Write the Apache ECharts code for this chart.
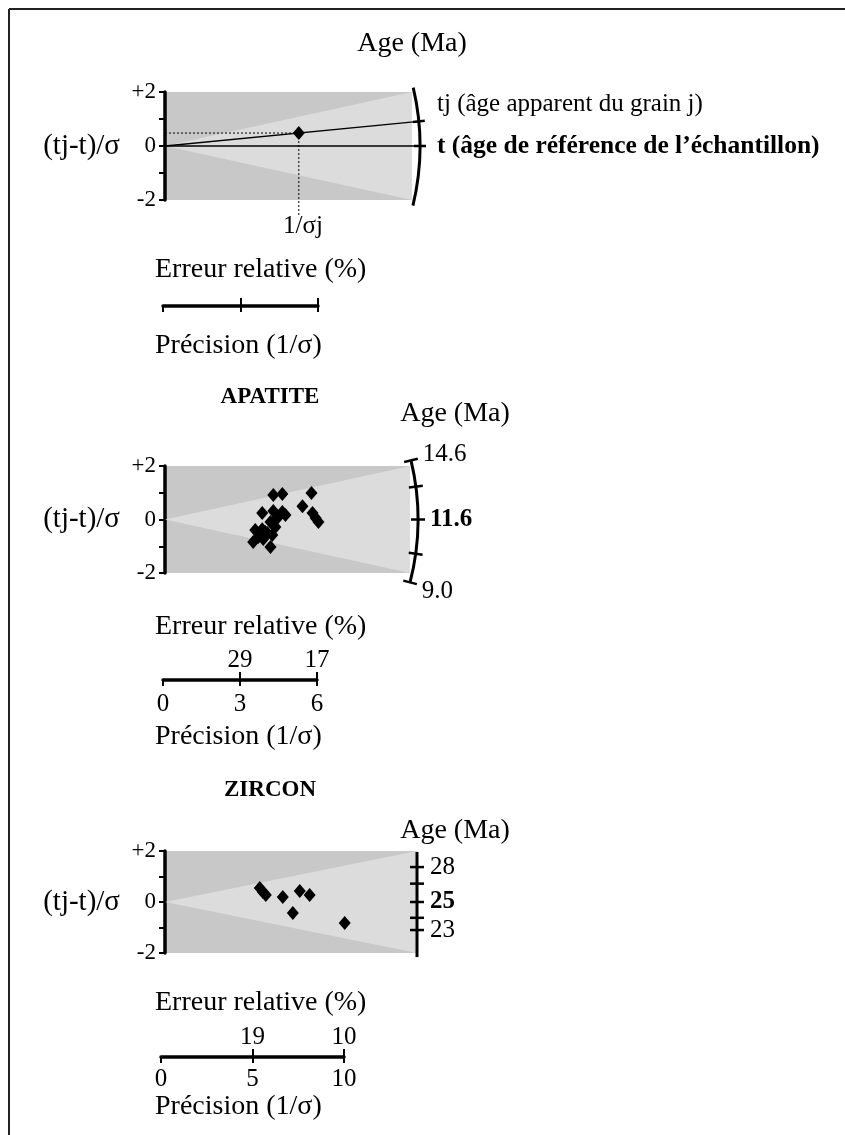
<!DOCTYPE html>
<html><head><meta charset="utf-8">
<script src="https://cdn.jsdelivr.net/npm/echarts@6/dist/echarts.min.js"></script>
<style>html,body{margin:0;padding:0;background:#fff}#c{width:845px;height:1135px}</style>
</head><body><div id="c"></div>
<script>
// ---------- DATA ----------
const yTickLabelMap = { '2': '+2', '0': '0', '-2': '-2' };

// schematic panel
const demoXMax = 9.6;
const demoPoint = [5.2, 0.48];
const demoBarTicks = [0, 3, 6];
const demoBarLabels = ['', '', ''];

// apatite
const apatiteXMax = 9.5;
const apatitePrecision = [4.2, 4.55, 5.68, 5.33, 3.77, 4.2, 4.55, 4.67, 4.36, 4.09, 5.72, 5.84, 5.95, 3.5, 3.77, 3.97, 3.62, 4.16, 3.42, 3.81, 4.09, 3.89, 4.28];
const apatiteStd = [0.92, 0.95, 0.99, 0.5, 0.24, 0.32, 0.28, 0.17, 0.06, -0.09, 0.24, 0.06, -0.09, -0.39, -0.36, -0.5, -0.65, -0.58, -0.84, -0.73, -1.03, -0.47, -0.28];
const apatiteAgeTickPos = [2.2, 1.2, 0, -1.25, -2.35];
const apatiteAgeTickLabels = ['14.6', '', '11.6', '', '9.0'];
const apatiteBarTicks = [0, 3, 6];
const apatiteBarLabels = ['0', '3', '6'];
const apatiteRelErrLabels = ['', '29', '17'];

// zircon
const zirconXMax = 13.8;
const zirconPrecision = [5.19, 5.36, 5.52, 6.45, 7.38, 7.92, 7.0, 9.84];
const zirconStd = [0.55, 0.39, 0.27, 0.2, 0.43, 0.27, -0.43, -0.82];
const zirconAgeTickPos = [1.37, 0.72, 0, -0.62, -1.1];
const zirconAgeTickLabels = ['28', '', '25', '', '23'];
const zirconBarTicks = [0, 5, 10];
const zirconBarLabels = ['0', '5', '10'];
const zirconRelErrLabels = ['', '19', '10'];

// ---------- CHART ----------
const FONT = '"Liberation Serif", "Times New Roman", serif';
const chart = echarts.init(document.getElementById('c'), null, { renderer: 'canvas' });

const zipPts = (xs, ys) => xs.map((x, i) => [x, ys[i]]);

function mainY(gi) {
  return {
    gridIndex: gi, type: 'value', min: -2, max: 2, interval: 1,
    axisLine: { show: true, lineStyle: { color: '#000', width: 3.5 } },
    axisTick: { show: true, length: 6, lineStyle: { color: '#000', width: 2 } },
    splitLine: { show: false },
    axisLabel: { margin: 9, color: '#000', fontFamily: FONT, fontSize: 23,
      formatter: v => (yTickLabelMap[String(v)] !== undefined ? yTickLabelMap[String(v)] : '') },
    name: '(tj-t)/σ', nameLocation: 'middle', nameRotate: 0, nameGap: 45,
    nameTextStyle: { color: '#000', fontFamily: FONT, fontSize: 29, align: 'right', verticalAlign: 'middle' }
  };
}
function hiddenY(gi) { return { gridIndex: gi, type: 'value', min: 0, max: 1, show: false }; }
function mainX(gi, max) { return { gridIndex: gi, type: 'value', min: 0, max: max, show: false }; }
function barXBottom(gi, ticks, labels, margin) {
  return {
    gridIndex: gi, type: 'value', min: ticks[0], max: ticks[ticks.length - 1], position: 'bottom',
    axisLine: { show: true, lineStyle: { color: '#000', width: 3.5 } },
    axisTick: { show: true, customValues: ticks, length: 6, lineStyle: { color: '#000', width: 2 } },
    splitLine: { show: false },
    axisLabel: { show: true, customValues: ticks, margin: margin, color: '#000', fontFamily: FONT, fontSize: 25,
      formatter: v => labels[ticks.indexOf(v)] || '' }
  };
}
function barXTop(gi, ticks, labels) {
  return {
    gridIndex: gi, type: 'value', min: ticks[0], max: ticks[ticks.length - 1], position: 'top',
    axisLine: { show: false },
    axisTick: { show: true, customValues: ticks.slice(1), length: 7, lineStyle: { color: '#000', width: 2 } },
    splitLine: { show: false },
    axisLabel: { show: true, customValues: ticks.slice(1), margin: 6, color: '#000', fontFamily: FONT, fontSize: 25,
      formatter: v => labels[ticks.indexOf(v)] || '' }
  };
}

function wedgeSeries(xi, yi, xmax) {
  return {
    type: 'custom', xAxisIndex: xi, yAxisIndex: yi, z: 1, silent: true, clip: false,
    data: [[0, 0]],
    renderItem: (params, api) => ({
      type: 'polygon',
      shape: { points: [api.coord([0, 0]), api.coord([xmax, 2]), api.coord([xmax, -2])] },
      style: { fill: '#dcdcdc' }
    })
  };
}

const BULGE = 8;
function arcRadius(api, xmax) { return api.coord([xmax, 0])[0] - api.coord([0, 0])[0] + BULGE; }

function arcSeries(xi, yi, spec) {
  return {
    type: 'custom', xAxisIndex: xi, yAxisIndex: yi, z: 4, silent: true, clip: false,
    data: [[0, 0]],
    renderItem: (params, api) => {
      const o = api.coord([0, 0]);
      const ch = [];
      const txt = (text, x, y, bold) => ({
        type: 'text',
        style: { text, x, y, fill: '#000', fontFamily: FONT, fontSize: 25, fontWeight: bold ? 'bold' : 'normal',
          align: 'left', verticalAlign: 'middle', textAlign: 'left', textVerticalAlign: 'middle' }
      });
      if (spec.straight) {
        const x = api.coord([spec.xmax, 0])[0];
        const yT = api.coord([spec.xmax, spec.extent[0]])[1];
        const yB = api.coord([spec.xmax, spec.extent[1]])[1];
        ch.push({ type: 'line', shape: { x1: x, y1: yT, x2: x, y2: yB }, style: { stroke: '#000', lineWidth: 3 } });
        spec.tickPoints.forEach((pt, i) => {
          const y = api.coord(pt)[1];
          ch.push({ type: 'line', shape: { x1: x - 7, y1: y, x2: x + 7, y2: y }, style: { stroke: '#000', lineWidth: 2.5 } });
          if (spec.labels[i]) ch.push(txt(spec.labels[i], x + 13, y + (spec.labelDy ? spec.labelDy[i] : 0), i === spec.boldIndex));
        });
      } else {
        const r = arcRadius(api, spec.xmax);
        const ang = pt => { const p = api.coord(pt); return Math.atan2(p[1] - o[1], p[0] - o[0]); };
        const a0 = ang([spec.xmax, spec.extent[0]]);
        const a1 = ang([spec.xmax, spec.extent[1]]);
        ch.push({ type: 'arc', shape: { cx: o[0], cy: o[1], r: r, startAngle: a0, endAngle: a1, clockwise: true },
          style: { stroke: '#000', fill: null, lineWidth: 3 } });
        spec.tickPoints.forEach((pt, i) => {
          const a = ang(pt);
          const c = Math.cos(a), s = Math.sin(a);
          const tl = spec.tickLen || 7;
          ch.push({ type: 'line', shape: { x1: o[0] + (r - tl) * c, y1: o[1] + (r - tl) * s, x2: o[0] + (r + tl) * c, y2: o[1] + (r + tl) * s },
            style: { stroke: '#000', lineWidth: 2.5 } });
          if (spec.labels && spec.labels[i]) {
            ch.push(txt(spec.labels[i], o[0] + (r + 12) * c, o[1] + (r + 12) * s + (spec.labelDy ? spec.labelDy[i] : 0), i === spec.boldIndex));
          }
        });
      }
      return { type: 'group', children: ch };
    }
  };
}

function demoLinesSeries(xi, yi) {
  return {
    type: 'custom', xAxisIndex: xi, yAxisIndex: yi, z: 3, silent: true, clip: false,
    data: [[0, 0]],
    renderItem: (params, api) => {
      const o = api.coord([0, 0]);
      const p = api.coord(demoPoint);
      const r = arcRadius(api, demoXMax);
      const a = Math.atan2(p[1] - o[1], p[0] - o[0]);
      const yAxisLeft = api.coord([0, demoPoint[1]]);
      const bottom = api.coord([demoPoint[0], -2])[1];
      return { type: 'group', children: [
        { type: 'line', shape: { x1: o[0], y1: o[1], x2: o[0] + r, y2: o[1] }, style: { stroke: '#000', lineWidth: 1.3 } },
        { type: 'line', shape: { x1: o[0], y1: o[1], x2: o[0] + r * Math.cos(a), y2: o[1] + r * Math.sin(a) }, style: { stroke: '#000', lineWidth: 1.3 } },
        { type: 'line', shape: { x1: yAxisLeft[0], y1: yAxisLeft[1], x2: p[0], y2: p[1] }, style: { stroke: '#000', lineWidth: 1, lineDash: [2, 2] } },
        { type: 'line', shape: { x1: p[0], y1: p[1], x2: p[0], y2: bottom + 15 }, style: { stroke: '#000', lineWidth: 1, lineDash: [2, 2] } }
      ] };
    }
  };
}

function scatter(xi, yi, pts) {
  return { type: 'scatter', xAxisIndex: xi, yAxisIndex: yi, z: 5, data: pts, symbol: 'diamond', symbolSize: [12, 14],
    itemStyle: { color: '#000', opacity: 1 }, silent: true };
}

const T = (text, x, y, size, bold, align) => ({
  type: 'text', x: x, y: y, silent: true,
  style: { text, fill: '#000', fontFamily: FONT, fontSize: size, fontWeight: bold ? 'bold' : 'normal',
    textAlign: align || 'center', textVerticalAlign: 'middle', align: align || 'center', verticalAlign: 'middle' }
});

const option = {
  animation: false,
  backgroundColor: '#fff',
  grid: [
    { left: 165, top: 92, width: 247, height: 108, show: true, backgroundColor: '#c8c8c8', borderWidth: 0 },
    { left: 163, top: 305, width: 155, height: 1, show: false },
    { left: 165, top: 466, width: 245, height: 107, show: true, backgroundColor: '#c8c8c8', borderWidth: 0 },
    { left: 163, top: 679, width: 154, height: 1, show: false },
    { left: 165, top: 851, width: 252, height: 102, show: true, backgroundColor: '#c8c8c8', borderWidth: 0 },
    { left: 161, top: 1056, width: 183, height: 1, show: false }
  ],
  xAxis: [
    mainX(0, demoXMax),
    barXBottom(1, demoBarTicks, demoBarLabels, 4),
    barXTop(1, demoBarTicks, demoBarLabels),
    mainX(2, apatiteXMax),
    barXBottom(3, apatiteBarTicks, apatiteBarLabels, 12),
    barXTop(3, apatiteBarTicks, apatiteRelErrLabels),
    mainX(4, zirconXMax),
    barXBottom(5, zirconBarTicks, zirconBarLabels, 10),
    barXTop(5, zirconBarTicks, zirconRelErrLabels)
  ],
  yAxis: [mainY(0), hiddenY(1), mainY(2), hiddenY(3), mainY(4), hiddenY(5)],
  series: [
    wedgeSeries(0, 0, demoXMax),
    demoLinesSeries(0, 0),
    arcSeries(0, 0, { xmax: demoXMax, extent: [2.15, -2.2], tickPoints: [demoPoint, [1, 0]], labels: [], tickLen: 6 }),
    scatter(0, 0, [demoPoint]),
    { type: 'scatter', xAxisIndex: 1, yAxisIndex: 1, data: [], silent: true },
    wedgeSeries(3, 2, apatiteXMax),
    arcSeries(3, 2, { xmax: apatiteXMax, extent: [2.2, -2.35], tickPoints: apatiteAgeTickPos.map(v => [apatiteXMax, v]),
      labels: apatiteAgeTickLabels, boldIndex: 2, labelDy: [-3, 0, 0, 0, 6] }),
    scatter(3, 2, zipPts(apatitePrecision, apatiteStd)),
    { type: 'scatter', xAxisIndex: 4, yAxisIndex: 3, data: [], silent: true },
    wedgeSeries(6, 4, zirconXMax),
    arcSeries(6, 4, { xmax: zirconXMax, straight: true, extent: [1.96, -2.16], tickPoints: zirconAgeTickPos.map(v => [zirconXMax, v]),
      labels: zirconAgeTickLabels, boldIndex: 2 }),
    scatter(6, 4, zipPts(zirconPrecision, zirconStd)),
    { type: 'scatter', xAxisIndex: 7, yAxisIndex: 5, data: [], silent: true }
  ],
  graphic: [
    { type: 'line', silent: true, shape: { x1: 9, y1: 9, x2: 845, y2: 9 }, style: { stroke: '#222', lineWidth: 2 } },
    { type: 'line', silent: true, shape: { x1: 9, y1: 9, x2: 9, y2: 1135 }, style: { stroke: '#222', lineWidth: 2 } },
    T('Age (Ma)', 412, 44, 28),
    T('tj (âge apparent du grain j)', 437, 104, 25, false, 'left'),
    T('t (âge de référence de l’échantillon)', 437, 146, 25.5, true, 'left'),
    T('1/σj', 303, 226, 25),
    T('Erreur relative (%)', 155, 270, 28, false, 'left'),
    T('Précision (1/σ)', 155, 346, 28, false, 'left'),
    T('APATITE', 270, 397, 23, true),
    T('Age (Ma)', 455, 414, 28),
    T('Erreur relative (%)', 155, 627, 28, false, 'left'),
    T('Précision (1/σ)', 155, 737, 28, false, 'left'),
    T('ZIRCON', 270, 790, 23, true),
    T('Age (Ma)', 455, 831, 28),
    T('Erreur relative (%)', 155, 1003, 28, false, 'left'),
    T('Précision (1/σ)', 155, 1107, 28, false, 'left')
  ]
};
chart.setOption(option);
</script>
</body></html>
